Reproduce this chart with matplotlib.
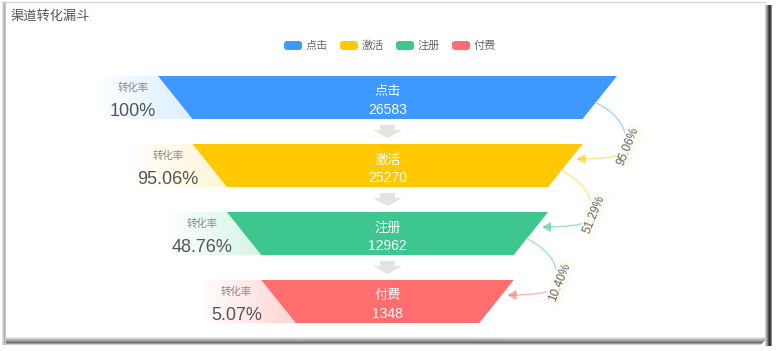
import numpy as np
import matplotlib
matplotlib.use("Agg")
import matplotlib.pyplot as plt
from matplotlib.patches import Polygon, Rectangle, FancyBboxPatch, FancyArrowPatch
from matplotlib.path import Path

plt.rcParams['font.family'] = ['Noto Sans CJK SC', 'DejaVu Sans']
num_font = ['Liberation Sans', 'Noto Sans CJK SC']

# data
stages = ['点击', '激活', '注册', '付费']
values = [26583, 25270, 12962, 1348]
total_rate = ['100%', '95.06%', '48.76%', '5.07%']
step_rate = ['95.06%', '51.29%', '10.40%']
colors = ['#3D99FF', '#FFC800', '#3DC68E', '#FF6E6E']
light = ['#dcefff', '#fff6d6', '#d6f5e7', '#ffd6d6']
title = '渠道转化漏斗'

W, H = 776, 351
fig = plt.figure(figsize=(W / 100, H / 100), dpi=100)
ax = fig.add_axes([0, 0, 1, 1])
ax.set_xlim(0, W)
ax.set_ylim(H, 0)
ax.axis('off')

# card frame + shadows
ax.add_patch(Rectangle((0, 0), W, H, color='white', zorder=0))
ax.plot([2, 766], [2, 2], color='#d8d8d8', lw=1, zorder=1)
for i, g in enumerate(['#e2e2e2', '#c8c8c8', '#b0b0b0', '#c8c8c8']):
    ax.add_patch(Rectangle((2 + i, 2), 1, 343, color=g, lw=0, zorder=1))
for i, g in enumerate(['#e8e8e8', '#d0d0d0', '#b8b8b8', '#a0a0a0', '#888888', '#707070', '#9a9a9a', '#cfcfcf']):
    ax.add_patch(Rectangle((6, 337 + i), 762 - i, 1, color=g, lw=0, zorder=1))
for i, g in enumerate(['#cfcfcf', '#aaaaaa', '#888888', '#555555', '#333333', '#444444', '#888888']):
    ax.add_patch(Rectangle((765 + i, 5), 1, 341, color=g, lw=0, zorder=1))

ax.text(11, 16, title, fontsize=9.5, color='#555555', va='center', ha='left')

# legend
lx = 284
for name, c in zip(stages, colors):
    ax.add_patch(FancyBboxPatch((lx, 41), 18, 9, boxstyle='round,pad=0,rounding_size=3',
                                fc=c, ec='none', zorder=3))
    ax.text(lx + 22, 45.5, name, fontsize=8, color='#666666', va='center', ha='left')
    lx += 56

# funnel geometry
cx = 387.5
top0 = 76
bar_h = 43
gap = 25
full_w = 459
widths = [full_w * (1 - 0.15 * i) for i in range(len(stages) + 1)]

geo = []
for i, (name, v) in enumerate(zip(stages, values)):
    t = top0 + i * (bar_h + gap)
    b = t + bar_h
    wt, wb = widths[i], widths[i + 1]
    tl, tr = cx - wt / 2, cx + wt / 2
    bl, br = cx - wb / 2, cx + wb / 2
    geo.append((t, b, tl, tr, bl, br))
    ax.add_patch(Polygon([(tl, t), (tr, t), (br, b), (bl, b)], closed=True,
                         fc=colors[i], ec='none', zorder=3))
    ax.text(cx, t + 16, name, fontsize=9.5, color='white', ha='center', va='center', zorder=4)
    ax.text(cx, t + 34, str(v), fontsize=10, color='white', ha='center', va='center', zorder=4,
            family=num_font)

    # gradient label box on the left
    x0 = tl - 58
    rgb = matplotlib.colors.to_rgb(light[i])
    grad = np.zeros((1, 256, 4))
    grad[..., :3] = rgb
    grad[..., 3] = np.linspace(0, 1, 256) ** 0.8
    clip = Polygon([(x0, t), (tl, t), (bl, b), (x0, b)], closed=True, fc='none', ec='none')
    ax.add_patch(clip)
    im = ax.imshow(grad, extent=[x0, bl, b, t], aspect='auto', zorder=2, interpolation='bilinear')
    im.set_clip_path(clip)
    lcx = (tl + bl) / 2 - 42
    ax.text(lcx, t + 12, '转化率', fontsize=7.5, color='#888888', ha='center', va='center', zorder=4)
    ax.text(lcx, t + 35, total_rate[i], fontsize=13, color='#555555', ha='center', va='center',
            zorder=4, family=num_font)

    # gray arrow down to next stage
    if i < len(stages) - 1:
        ya = b + 6
        ax.add_patch(Polygon([(cx - 7.5, ya), (cx + 7.5, ya), (cx + 7.5, ya + 5),
                              (cx + 14.5, ya + 5), (cx, ya + 13), (cx - 14.5, ya + 5),
                              (cx - 7.5, ya + 5)], closed=True, fc='#e3e3e3', ec='none', zorder=3))

ax.set_xlim(0, W)
ax.set_ylim(H, 0)

# curved conversion arrows on the right
for i, rate in enumerate(step_rate):
    t, b, tl, tr, bl, br = geo[i]
    t2, b2, tl2, tr2, bl2, br2 = geo[i + 1]
    f = 0.62
    sx, sy = tr + (br - tr) * f, t + bar_h * f
    mx, my = sx + 33, b + 27
    f2 = 0.35
    ex, ey = tr2 + (br2 - tr2) * f2 + 6, t2 + bar_h * f2
    p1 = Path([(sx, sy), (sx + 25, sy + 12), (mx - 3, my - 11)], [Path.MOVETO, Path.CURVE3, Path.CURVE3])
    ax.add_patch(FancyArrowPatch(path=p1, arrowstyle='-', color=light[i], lw=1.3, zorder=3))
    ax.add_patch(FancyArrowPatch(path=Path([(sx, sy), (sx + 25, sy + 12), (mx - 3, my - 11)],
                                           [Path.MOVETO, Path.CURVE3, Path.CURVE3]),
                                 arrowstyle='-', color=colors[i], lw=0.8, alpha=0.35, zorder=3))
    p2 = Path([(mx - 7, my + 7), (mx - 14, my + 13), (ex, ey)], [Path.MOVETO, Path.CURVE3, Path.CURVE3])
    ax.add_patch(FancyArrowPatch(path=p2, arrowstyle='-|>,head_length=5,head_width=3',
                                 mutation_scale=1, color=colors[i + 1], lw=1, alpha=0.5, zorder=3))
    ax.text(mx, my, rate, fontsize=8.5, color='#666666', rotation=68, ha='center', va='center',
            rotation_mode='anchor', zorder=4, family=num_font,
            bbox=dict(boxstyle='round,pad=0.2', fc='#fbfbef', ec='none', alpha=0.8))

fig.savefig('out.png', dpi=100)
